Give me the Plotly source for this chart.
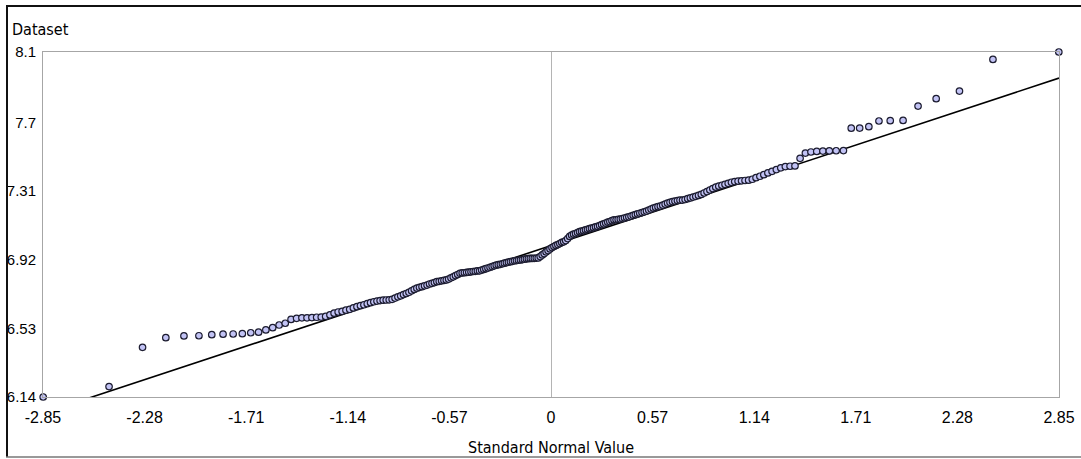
import statistics
import plotly.graph_objects as go

# Sorted dataset values, plotted against normal quantiles
dataset_values = [
    6.140, 6.199, 6.422, 6.477, 6.487, 6.488, 6.494, 6.497, 6.498, 6.500,
    6.505, 6.508, 6.521, 6.534, 6.549, 6.559, 6.581, 6.587, 6.590, 6.590,
    6.591, 6.593, 6.594, 6.598, 6.606, 6.616, 6.623, 6.627, 6.633, 6.638,
    6.646, 6.653, 6.659, 6.664, 6.670, 6.676, 6.681, 6.685, 6.688, 6.690,
    6.691, 6.692, 6.695, 6.702, 6.709, 6.715, 6.722, 6.728, 6.735, 6.743,
    6.751, 6.758, 6.763, 6.767, 6.772, 6.776, 6.782, 6.786, 6.790, 6.795,
    6.797, 6.800, 6.802, 6.805, 6.810, 6.817, 6.823, 6.830, 6.836, 6.843,
    6.845, 6.846, 6.848, 6.849, 6.851, 6.853, 6.854, 6.856, 6.857, 6.861,
    6.865, 6.869, 6.873, 6.877, 6.881, 6.885, 6.889, 6.892, 6.894, 6.897,
    6.900, 6.903, 6.906, 6.909, 6.911, 6.914, 6.915, 6.917, 6.919, 6.921,
    6.923, 6.925, 6.926, 6.927, 6.927, 6.928, 6.929, 6.930, 6.938, 6.947,
    6.955, 6.964, 6.972, 6.981, 6.989, 6.995, 7.001, 7.006, 7.012, 7.018,
    7.022, 7.029, 7.040, 7.052, 7.060, 7.065, 7.069, 7.074, 7.079, 7.082,
    7.085, 7.089, 7.092, 7.096, 7.099, 7.102, 7.106, 7.109, 7.114, 7.119,
    7.123, 7.128, 7.133, 7.137, 7.142, 7.146, 7.147, 7.149, 7.151, 7.154,
    7.157, 7.160, 7.164, 7.168, 7.172, 7.176, 7.180, 7.184, 7.188, 7.192,
    7.196, 7.202, 7.208, 7.213, 7.217, 7.221, 7.225, 7.230, 7.236, 7.242,
    7.246, 7.250, 7.253, 7.256, 7.258, 7.259, 7.262, 7.267, 7.271, 7.276,
    7.280, 7.285, 7.291, 7.299, 7.307, 7.316, 7.324, 7.332, 7.338, 7.343,
    7.348, 7.354, 7.360, 7.364, 7.366, 7.368, 7.370, 7.372, 7.377, 7.386,
    7.394, 7.403, 7.413, 7.422, 7.432, 7.442, 7.449, 7.451, 7.453, 7.496,
    7.526, 7.532, 7.535, 7.537, 7.538, 7.539, 7.540, 7.667, 7.668, 7.676,
    7.708, 7.710, 7.711, 7.793, 7.835, 7.878, 8.058, 8.100,
]

# Reference line parameters (location / scale) and its visible z span
ref_mean = 7.0
ref_sd = 0.334
ref_z_span = [-2.62, 2.85]

x_tick_vals = [-2.85, -2.28, -1.71, -1.14, -0.57, 0, 0.57, 1.14, 1.71, 2.28, 2.85]
x_tick_text = ["-2.85", "-2.28", "-1.71", "-1.14", "-0.57", "0", "0.57", "1.14", "1.71", "2.28", "2.85"]
y_tick_vals = [6.14, 6.53, 6.92, 7.31, 7.70, 8.10]
y_tick_text = ["6.14", "6.53", "6.92", "7.31", "7.7", "8.1"]

x_title = "Standard Normal Value"
y_title = "Dataset"

n = len(dataset_values)
nd = statistics.NormalDist()
z_vals = [nd.inv_cdf((i + 0.5) / n) for i in range(n)]
ref_y = [ref_mean + ref_sd * z for z in ref_z_span]

W, H = 1081, 459
ml, mr, mt, mb = 43, 22, 52, 62
pw, ph = W - ml - mr, H - mt - mb


def px(xp):
    return (xp - ml) / pw


def py(yp):
    return (H - mb - yp) / ph


title_font = "DejaVu Sans Condensed, Liberation Sans, sans-serif"
tick_font = "Liberation Sans, Arial, sans-serif"

fig = go.Figure()
fig.add_trace(go.Scatter(
    x=ref_z_span, y=ref_y, mode="lines",
    line=dict(color="#000000", width=1.6),
    hoverinfo="skip", showlegend=False,
))
fig.add_trace(go.Scatter(
    x=z_vals, y=dataset_values, mode="markers",
    marker=dict(size=6.5, color="#c2c3f5", line=dict(color="#1c1c30", width=1.2)),
    cliponaxis=False, showlegend=False,
))

fig.update_layout(
    width=W, height=H,
    margin=dict(l=ml, r=mr, t=mt, b=mb, autoexpand=False),
    paper_bgcolor="white", plot_bgcolor="white",
    font=dict(family=tick_font, size=16, color="#000000"),
    xaxis=dict(
        range=[-2.85, 2.85], tickmode="array", tickvals=x_tick_vals, ticktext=x_tick_text,
        showgrid=False, zeroline=True, zerolinecolor="#b4b4b4", zerolinewidth=1,
        showline=True, linecolor="#a6a6a6", linewidth=1, mirror=True,
        ticks="", ticklabelstandoff=6, automargin=False,
        tickfont=dict(family=tick_font, size=16, color="#000000"),
    ),
    yaxis=dict(
        range=[6.14, 8.10], tickmode="array", tickvals=y_tick_vals, ticktext=y_tick_text,
        showgrid=False, zeroline=False,
        showline=True, linecolor="#a6a6a6", linewidth=1, mirror=True,
        ticks="", ticklabelstandoff=3, automargin=False,
        tickfont=dict(family=tick_font, size=15, color="#000000"),
    ),
    annotations=[
        dict(text=y_title, xref="paper", yref="paper", x=px(10), y=py(29),
             xanchor="left", yanchor="middle", showarrow=False,
             font=dict(family=title_font, size=16, color="#000000")),
        dict(text=x_title, xref="paper", yref="paper", x=px(551), y=py(447),
             xanchor="center", yanchor="middle", showarrow=False,
             font=dict(family=title_font, size=16, color="#000000")),
    ],
    shapes=[
        dict(type="line", xref="paper", yref="paper", x0=px(6), x1=px(1081), y0=py(6), y1=py(6),
             line=dict(color="#111111", width=2)),
        dict(type="line", xref="paper", yref="paper", x0=px(7), x1=px(7), y0=py(6), y1=py(457),
             line=dict(color="#111111", width=2)),
        dict(type="line", xref="paper", yref="paper", x0=px(6), x1=px(1081), y0=py(457), y1=py(457),
             line=dict(color="#777777", width=1.5)),
    ],
)

fig.write_html("out.html")
